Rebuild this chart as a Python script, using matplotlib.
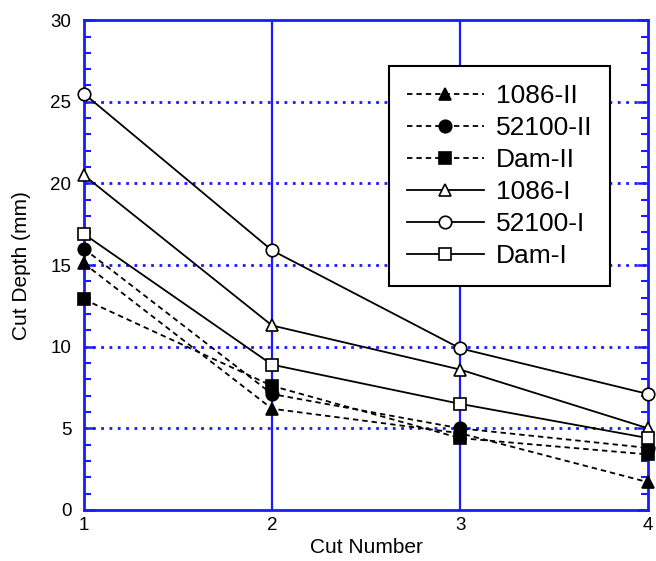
import numpy as np
import matplotlib
matplotlib.use("Agg")
import matplotlib.pyplot as plt
from matplotlib.ticker import MultipleLocator

plt.rcParams["font.family"] = ["Liberation Sans", "DejaVu Sans"]

# ---- DATA ----
cut_number = [1, 2, 3, 4]

d_1086_II = [15.1, 6.2, 4.7, 1.7]
d_52100_II = [16.0, 7.1, 5.0, 3.8]
d_dam_II = [12.9, 7.6, 4.4, 3.4]
d_1086_I = [20.5, 11.3, 8.6, 5.0]
d_52100_I = [25.5, 15.9, 9.9, 7.1]
d_dam_I = [16.9, 8.9, 6.5, 4.4]

series = [
    ("1086-II", d_1086_II, "^", "black", "--"),
    ("52100-II", d_52100_II, "o", "black", "--"),
    ("Dam-II", d_dam_II, "s", "black", "--"),
    ("1086-I", d_1086_I, "^", "white", "-"),
    ("52100-I", d_52100_I, "o", "white", "-"),
    ("Dam-I", d_dam_I, "s", "white", "-"),
]

blue = "#1a1aff"

# ---- PLOT ----
fig = plt.figure(figsize=(6.56, 5.61), dpi=100)
ax = fig.add_axes([0.128, 0.091, 0.860, 0.873])

# grid: solid verticals, dotted horizontals
for xv in [2, 3]:
    ax.axvline(xv, color=blue, lw=1.6, zorder=1)
for yv in [5, 10, 15, 20, 25]:
    ax.axhline(yv, color=blue, lw=2, ls=(0, (1, 2)), zorder=1)

for name, vals, mk, fc, ls in series:
    if ls == "--":
        style = (0, (3, 2.2))
    else:
        style = "-"
    ax.plot(cut_number, vals, color="black", lw=1.3, ls=style,
            marker=mk, markersize=9, markerfacecolor=fc,
            markeredgecolor="black", markeredgewidth=1.2,
            label=name, zorder=3, clip_on=False)

ax.set_xlim(1, 4)
ax.set_ylim(0, 30)
ax.set_xticks(cut_number)
ax.yaxis.set_major_locator(MultipleLocator(5))
ax.yaxis.set_minor_locator(MultipleLocator(1))

for sp in ax.spines.values():
    sp.set_color(blue)
    sp.set_linewidth(2)

ax.tick_params(axis="y", which="both", direction="in", color=blue,
               left=True, right=True, labelsize=13.5, pad=9)
ax.tick_params(axis="y", which="major", length=8, width=1.8)
ax.tick_params(axis="y", which="minor", length=5, width=1.5)
ax.tick_params(axis="x", which="both", length=0, labelsize=13.5, pad=5)

ax.set_xlabel("Cut Number", fontsize=15, labelpad=3)
ax.set_ylabel("Cut Depth (mm)", fontsize=15, labelpad=14)

leg = ax.legend(loc="upper left", bbox_to_anchor=(0.541, 0.906),
                borderaxespad=0, fontsize=19, handlelength=2.9,
                labelspacing=0.3, fancybox=False, framealpha=1,
                edgecolor="black", borderpad=0.68, handletextpad=0.45)
leg.get_frame().set_linewidth(1.5)
leg.set_zorder(5)

fig.savefig("out.png", dpi=100)
